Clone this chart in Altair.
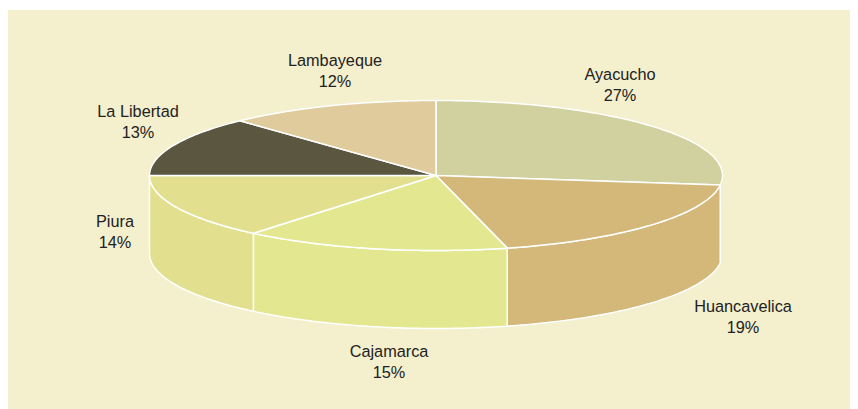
import math
import altair as alt
import pandas as pd

names = ["Ayacucho", "Huancavelica", "Cajamarca", "Piura", "La Libertad", "Lambayeque"]
shares = [27, 19, 15, 14, 13, 12]
colors = ["#d1d1a0", "#d3b879", "#e3e890", "#e2e08e", "#5a5640", "#dfcb9c"]
wall_names = ["Huancavelica", "Cajamarca", "Piura"]

# label anchors, page pixels
label_x = [620, 743, 389, 115, 138, 335]
label_y = [75, 307, 352, 222, 112, 61]

# pie geometry, page pixels
CX, CY, RX, RY, DEPTH = 436, 175.5, 286.5, 75, 78
LEFT, TOP, W, H = 8, 10, 842, 399


def rim(a):
    t = math.radians(a)
    return math.sin(t), math.cos(t)


tops, walls, labels = [], [], []
start = 0.0
for n, s, lx, ly in zip(names, shares, label_x, label_y):
    end = start + s * 3.6
    steps = max(2, int(end - start))
    arc = [rim(start + (end - start) * i / steps) for i in range(steps + 1)]
    poly = [(0.0, 0.0)] + arc + [(0.0, 0.0)]
    tops += [dict(name=n, k=i, x=p[0], y=p[1]) for i, p in enumerate(poly)]
    if n in wall_names:
        d = DEPTH / RY
        poly = arc + [(p[0], p[1] - d) for p in reversed(arc)] + [arc[0]]
        walls += [dict(name=n, k=i, x=p[0], y=p[1]) for i, p in enumerate(poly)]
    labels.append(dict(text=f"{n}\n{s}%", px=lx - LEFT, py=ly - TOP))
    start = end

xs = alt.Scale(domain=[(LEFT - CX) / RX, (LEFT + W - CX) / RX], range=[0, W], nice=False, zero=False)
ys = alt.Scale(domain=[(CY - TOP - H) / RY, (CY - TOP) / RY], range=[H, 0], nice=False, zero=False)
fill = alt.Fill("name:N", scale=alt.Scale(domain=names, range=colors), legend=None)


def slices(rows):
    return alt.Chart(pd.DataFrame(rows)).mark_line(
        stroke="white", strokeWidth=1.5, strokeJoin="round", interpolate="linear"
    ).encode(
        x=alt.X("x:Q", scale=xs, axis=None),
        y=alt.Y("y:Q", scale=ys, axis=None),
        fill=fill,
        detail="name:N",
        order="k:Q",
    )


text = alt.Chart(pd.DataFrame(labels)).mark_text(
    font="Liberation Sans", fontSize=16.3, color="#222222", align="center",
    baseline="middle", lineBreak="\n", lineHeight=21,
).encode(
    x=alt.X("px:Q", scale=None),
    y=alt.Y("py:Q", scale=None),
    text="text:N",
)

chart = alt.layer(slices(walls), slices(tops), text).properties(
    width=W, height=H, padding={"left": 0, "top": 2, "right": 0, "bottom": 0}
).configure_view(fill="#f4efcd", stroke=None)

chart.save("out.html", embed_options={"renderer": "svg", "actions": False})
